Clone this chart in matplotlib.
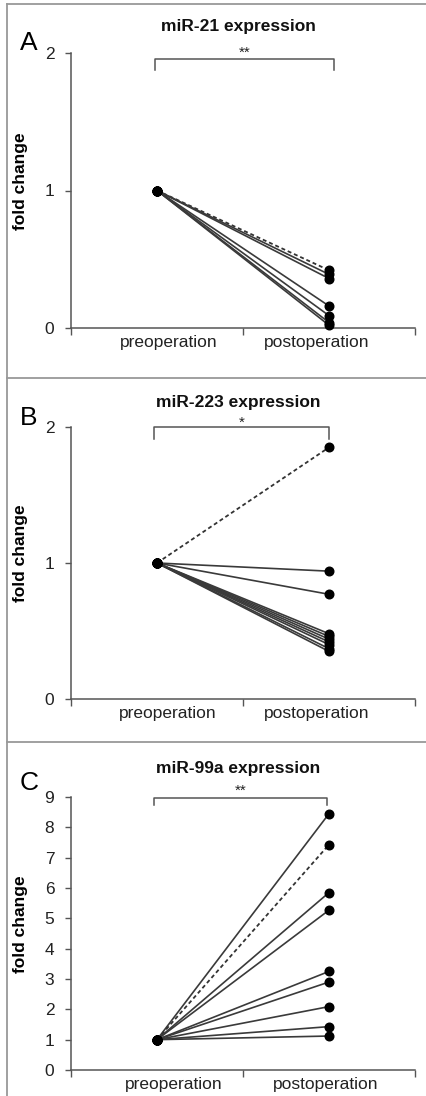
import matplotlib
matplotlib.use("Agg")
import matplotlib.pyplot as plt
from matplotlib.lines import Line2D

plt.rcParams['font.family'] = ['Liberation Sans', 'DejaVu Sans']

categories = ["preoperation", "postoperation"]

# Panel A: miR-21
a_title = "miR-21 expression"
a_pre = [1.0, 1.0, 1.0, 1.0, 1.0, 1.0, 1.0]
a_post = [0.42, 0.39, 0.36, 0.16, 0.09, 0.04, 0.02]
a_dashed = [True, False, False, False, False, False, False]
a_sig = "**"
a_yticks = [0, 1, 2]

# Panel B: miR-223
b_title = "miR-223 expression"
b_pre = [1.0, 1.0, 1.0, 1.0, 1.0, 1.0, 1.0, 1.0, 1.0, 1.0]
b_post = [1.85, 0.94, 0.77, 0.48, 0.46, 0.44, 0.42, 0.40, 0.37, 0.35]
b_dashed = [True, False, False, False, False, False, False, False, False, False]
b_sig = "*"
b_yticks = [0, 1, 2]

# Panel C: miR-99a
c_title = "miR-99a expression"
c_pre = [1.0, 1.0, 1.0, 1.0, 1.0, 1.0, 1.0, 1.0, 1.0]
c_post = [8.45, 7.43, 5.85, 5.27, 3.25, 2.90, 2.09, 1.43, 1.12]
c_dashed = [False, True, False, False, False, False, False, False, False]
c_sig = "**"
c_yticks = [0, 1, 2, 3, 4, 5, 6, 7, 8, 9]

W, H = 426, 1096
fig = plt.figure(figsize=(W / 100, H / 100), dpi=100)
fig.patch.set_facecolor("white")


def fx(px):
    return px / W


def fy(py):
    return 1 - py / H


panels = [
    dict(letter="A", title=a_title, pre=a_pre, post=a_post, dashed=a_dashed, sig=a_sig,
         yticks=a_yticks, top=53, bottom=328, title_y=27, letter_y=43,
         br=(0.49, 1.53, 1.96, 1.88), sig_y=2.0, lab=(0.57, 1.43)),
    dict(letter="B", title=b_title, pre=b_pre, post=b_post, dashed=b_dashed, sig=b_sig,
         yticks=b_yticks, top=427, bottom=699, title_y=402, letter_y=418,
         br=(0.48, 1.50, 2.0, 1.91), sig_y=2.03, lab=(0.56, 1.43)),
    dict(letter="C", title=c_title, pre=c_pre, post=c_post, dashed=c_dashed, sig=c_sig,
         yticks=c_yticks, top=797, bottom=1070, title_y=769, letter_y=783,
         br=(0.48, 1.49, 8.98, 8.72), sig_y=9.2, lab=(0.60, 1.48)),
]

ax_left, ax_right = 71, 415
spine_col = "#555555"
text_col = "#222222"

for p in panels:
    ax = fig.add_axes([fx(ax_left), fy(p["bottom"]), fx(ax_right - ax_left),
                       (p["bottom"] - p["top"]) / H])
    ymax = p["yticks"][-1]
    ax.set_xlim(0, 2)
    ax.set_ylim(0, ymax)
    for pre, post, d in zip(p["pre"], p["post"], p["dashed"]):
        if d:
            ax.plot([0.5, 1.5], [pre, post], color="#333333", lw=1.3,
                    linestyle=(0, (2.2, 1.6)), zorder=2)
        else:
            ax.plot([0.5, 1.5], [pre, post], color="#3a3a3a", lw=1.2, zorder=2)
        ax.plot([0.5, 1.5], [pre, post], linestyle="none", marker="o",
                markersize=6.2, color="black", zorder=3, clip_on=False)

    for s in ["top", "right"]:
        ax.spines[s].set_visible(False)
    for s in ["left", "bottom"]:
        ax.spines[s].set_color(spine_col)
        ax.spines[s].set_linewidth(1.1)

    ax.set_yticks(p["yticks"])
    ax.set_yticklabels([str(t) for t in p["yticks"]])
    ax.tick_params(axis="y", direction="out", length=4, width=1, color=spine_col,
                   labelsize=12.5, labelcolor=text_col, pad=8)
    ax.set_xticks([0, 1, 2])
    ax.set_xticklabels(["", "", ""])
    ax.tick_params(axis="x", which="major", direction="out", length=5, width=1,
                   color=spine_col)
    ax.set_xticks(list(p["lab"]), minor=True)
    ax.set_xticklabels(categories, minor=True)
    ax.tick_params(axis="x", which="minor", length=0, labelsize=12.5,
                   labelcolor=text_col, pad=5)

    ax.set_ylabel("fold change", fontsize=12.5, fontweight="bold", color="black")
    ax.yaxis.set_label_coords(fx(28 - ax_left) / fx(ax_right - ax_left), 0.535)

    # significance bracket
    x0, x1, yb, yt = p["br"]
    ax.plot([x0, x0, x1, x1], [yt, yb, yb, yt], color=spine_col, lw=1.1,
            clip_on=False, zorder=1)
    ax.text((x0 + x1) / 2, p["sig_y"], p["sig"], ha="center", va="center",
            fontsize=11, color=text_col, clip_on=False)

    fig.text(fx(238), fy(p["title_y"]), p["title"], ha="center", va="center",
             fontsize=12.5, fontweight="bold", color="#111111")
    fig.text(fx(29), fy(p["letter_y"]), p["letter"], ha="center", va="center",
             fontsize=19, color="black")

# panel frames
frame_col = "#999999"
for yy in [4, 378, 742]:
    fig.add_artist(Line2D([fx(7), 1], [fy(yy), fy(yy)], color=frame_col, lw=1.3))
fig.add_artist(Line2D([fx(7), fx(7)], [fy(4), 0], color=frame_col, lw=1.3))

fig.savefig("out.png", dpi=100, facecolor="white")
